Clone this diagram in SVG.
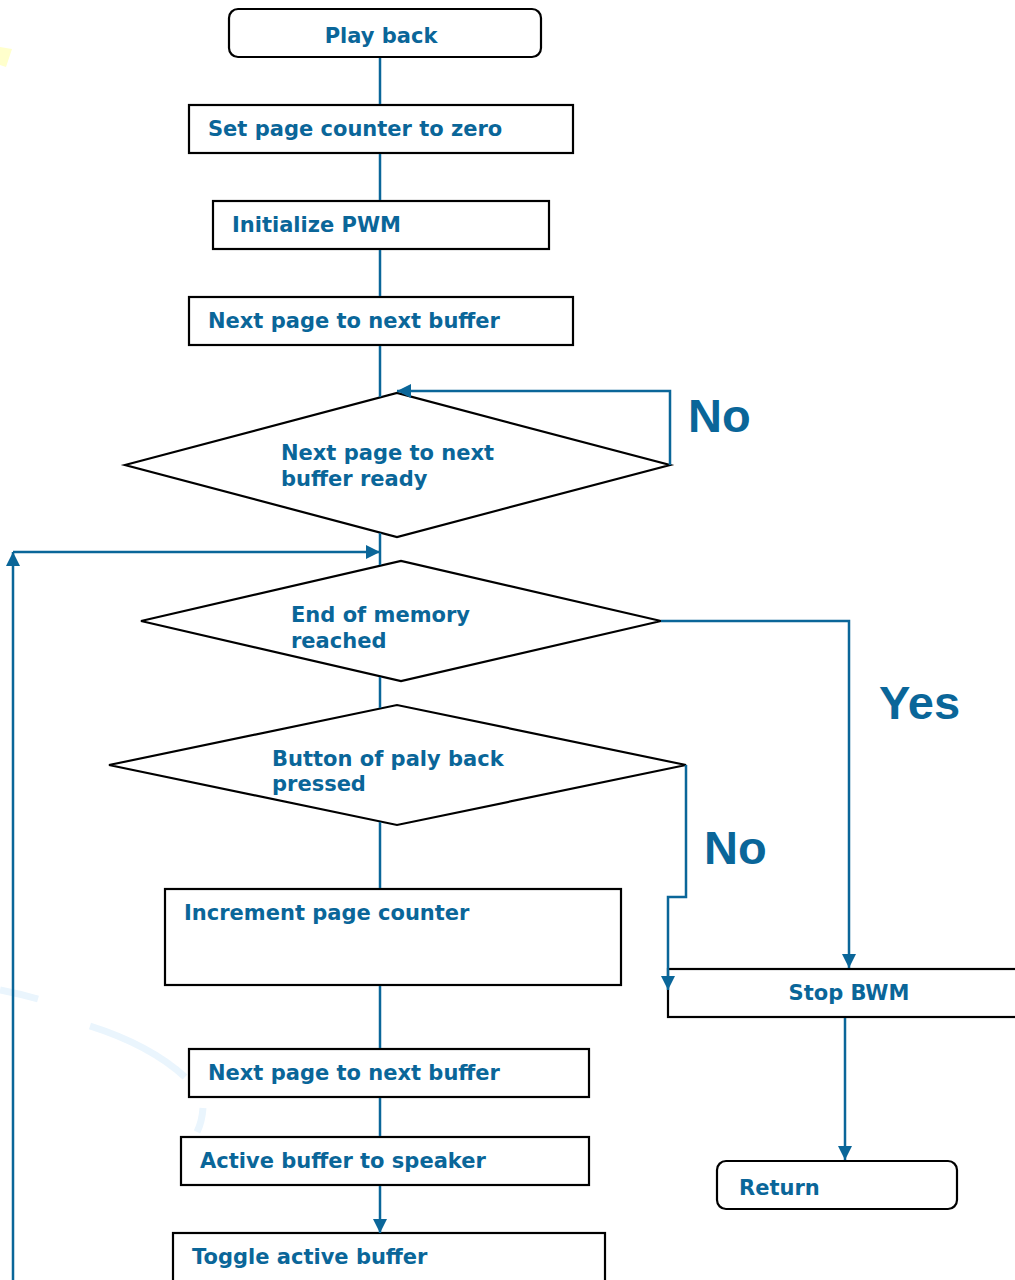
<svg xmlns="http://www.w3.org/2000/svg" width="1015" height="1280" viewBox="0 0 1015 1280">
<style>
.box{fill:#fff;stroke:#000;stroke-width:2.2}
.t{font-family:"DejaVu Sans",Verdana,sans-serif;font-weight:bold;font-size:21px;fill:#0A6699}
.lbl{font-family:"Liberation Sans",Arial,sans-serif;font-weight:bold;font-size:47px;fill:#0A6699}
.c{fill:none;stroke:#0A6699;stroke-width:2.5}
.bg{fill:none;stroke:#EAF5FD;stroke-width:7;stroke-linecap:butt}
</style>
<defs>
<marker id="ah" viewBox="0 0 14 14" refX="14" refY="7" markerWidth="14" markerHeight="14" markerUnits="userSpaceOnUse" orient="auto">
<path d="M0,0 L14,7 L0,14 Z" fill="#0A6699"/>
</marker>
</defs>
<rect width="1015" height="1280" fill="#fff"/>
<g id="background">
<polygon points="0,47 12,49 6,67 0,65" fill="#FFFFCC"/>
<path class="bg" d="M0,990 Q20,994 38,999"/>
<path class="bg" d="M90,1026 Q150,1045 185,1077"/>
<path class="bg" d="M203,1108 Q202,1122 197,1132"/>
</g>
<g id="n_playback"><rect class="box" x="229" y="9" width="312" height="48" rx="9"/><text class="t" x="381" y="43" text-anchor="middle">Play back</text></g>
<g id="n_setcounter"><rect class="box" x="189" y="105" width="384" height="48"/><text class="t" x="208" y="136">Set page counter to zero</text></g>
<g id="n_initpwm"><rect class="box" x="213" y="201" width="336" height="48"/><text class="t" x="232" y="232">Initialize PWM</text></g>
<g id="n_nextpage1"><rect class="box" x="189" y="297" width="384" height="48"/><text class="t" x="208" y="328">Next page to next buffer</text></g>
<g id="n_ready"><polygon class="box" points="125,465 397,393 670,465 397,537"/><text class="t" x="281" y="460">Next page to next</text><text class="t" x="281" y="486">buffer ready</text></g>
<g id="n_endmem"><polygon class="box" points="141,621 401,561 661,621 401,681"/><text class="t" x="291" y="622">End of memory</text><text class="t" x="291" y="648">reached</text></g>
<g id="n_button"><polygon class="box" points="109,765 397,705 686,765 397,825"/><text class="t" x="272" y="766">Button of paly back</text><text class="t" x="272" y="791">pressed</text></g>
<g id="n_increment"><rect class="box" x="165" y="889" width="456" height="96"/><text class="t" x="184" y="920">Increment page counter</text></g>
<g id="n_stop"><rect class="box" x="668" y="969" width="360" height="48"/><text class="t" x="849" y="1000" text-anchor="middle">Stop BWM</text></g>
<g id="n_return"><rect class="box" x="717" y="1161" width="240" height="48" rx="9"/><text class="t" x="739" y="1195">Return</text></g>
<g id="n_nextpage2"><rect class="box" x="189" y="1049" width="400" height="48"/><text class="t" x="208" y="1080">Next page to next buffer</text></g>
<g id="n_active"><rect class="box" x="181" y="1137" width="408" height="48"/><text class="t" x="200" y="1168">Active buffer to speaker</text></g>
<g id="n_toggle"><rect class="box" x="173" y="1233" width="432" height="60"/><text class="t" x="192" y="1264">Toggle active buffer</text></g>
<g id="connectors">
<line class="c" x1="380" y1="58" x2="380" y2="104"/>
<line class="c" x1="380" y1="154" x2="380" y2="200"/>
<line class="c" x1="380" y1="250" x2="380" y2="296"/>
<line class="c" x1="380" y1="346" x2="380" y2="397"/>
<polyline class="c" points="670,465 670,391 397,391" marker-end="url(#ah)"/>
<line class="c" x1="380" y1="533" x2="380" y2="565"/>
<polyline class="c" points="13,1280 13,552" marker-end="url(#ah)"/>
<line class="c" x1="13" y1="552" x2="380" y2="552" marker-end="url(#ah)"/>
<polyline class="c" points="661,621 849,621 849,968" marker-end="url(#ah)"/>
<line class="c" x1="380" y1="677" x2="380" y2="708"/>
<polyline class="c" points="686,765 686,897 668,897 668,990" marker-end="url(#ah)"/>
<line class="c" x1="380" y1="822" x2="380" y2="888"/>
<line class="c" x1="380" y1="986" x2="380" y2="1048"/>
<line class="c" x1="380" y1="1098" x2="380" y2="1136"/>
<line class="c" x1="380" y1="1186" x2="380" y2="1233" marker-end="url(#ah)"/>
<line class="c" x1="845" y1="1018" x2="845" y2="1160" marker-end="url(#ah)"/>
</g>
<g id="labels">
<text class="lbl" x="688" y="432">No</text>
<text class="lbl" x="879" y="719">Yes</text>
<text class="lbl" x="704" y="864">No</text>
</g>
</svg>
